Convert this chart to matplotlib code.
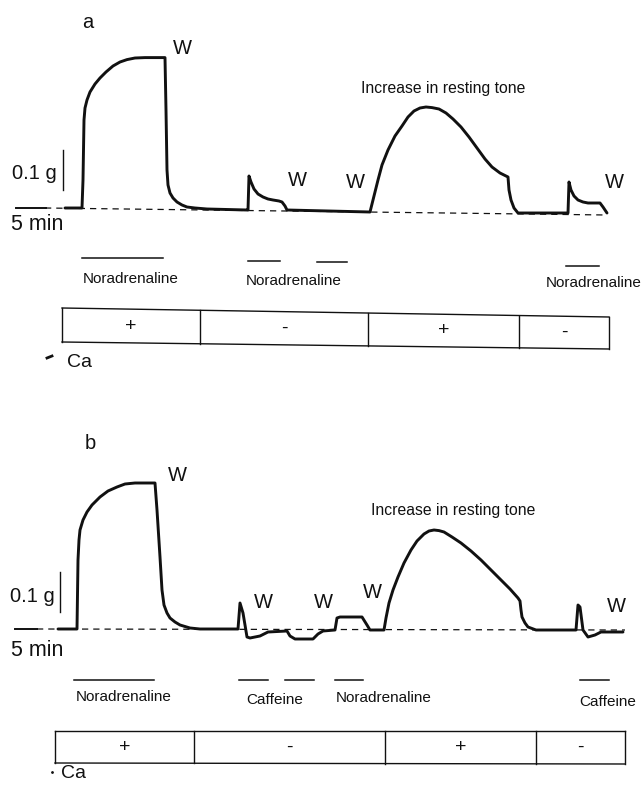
import numpy as np
import matplotlib
matplotlib.use("Agg")
import matplotlib.pyplot as plt
from matplotlib.transforms import blended_transform_factory

plt.rcParams['font.family'] = ['Liberation Sans', 'DejaVu Sans']

# ---------------- data (chart time in s, tension in mg above baseline) -------------
time_a = [650, 820, 830, 840, 850, 870, 900, 950, 1000, 1060, 1130, 1200, 1270, 1350, 1450, 1650,
          1660, 1670, 1680, 1700, 1730, 1770, 1820, 1870, 1950, 2070, 2470,
          2480, 2490, 2510, 2540, 2580, 2630, 2680, 2730, 2790, 2820, 2850, 2870, 3700,
          3720, 3750, 3780, 3820, 3880, 3950, 4020, 4080, 4140, 4200, 4260, 4320, 4390,
          4460, 4530, 4610, 4690, 4770, 4850, 4920, 5000, 5080, 5090, 5110, 5140, 5180, 5680,
          5690, 5710, 5740, 5780, 5830, 5880, 5960, 6000, 6030, 6070]
tension_a = [0, 0, 70, 220, 250, 270, 290, 310, 325, 340, 355, 365, 371, 375, 376, 376,
             245, 95, 57.5, 37.5, 25, 15, 7.5, 2.5, 0, -2.5, -5,
             -5, 80, 65, 47.5, 35, 27.5, 22.5, 20, 17.5, 15, 5, -5, -10,
             10, 40, 70, 107.5, 145, 180, 205, 227.5, 242.5, 250, 252.5, 251, 247.5,
             237.5, 222.5, 202.5, 177.5, 150, 122.5, 102.5, 87.5, 77.5, 45, 20, 0, -12.5, -12.5,
             65, 45, 30, 20, 15, 12.5, 12.5, 12.5, 2.5, -12.5]
baseline_a_t = [450, 6070]
baseline_a_v = [0, -17.5]

time_b = [580, 770, 780, 790, 800, 830, 870, 920, 1000, 1080, 1170, 1250, 1350, 1550,
          1570, 1600, 1620, 1640, 1670, 1700, 1750, 1800, 1900, 2000, 2330,
          2380, 2400, 2430, 2470, 2500, 2600, 2680, 2870, 2900, 2950, 3130,
          3180, 3230, 3350, 3370, 3400, 3620, 3670, 3700, 3840,
          3860, 3890, 3930, 3980, 4040, 4110, 4170, 4240, 4290, 4340, 4390, 4440, 4520,
          4610, 4710, 4810, 4910, 5010, 5100, 5180, 5200, 5210, 5220, 5250, 5280, 5360, 5760,
          5780, 5800, 5830, 5880, 5950, 6010, 6230]
tension_b = [0, 0, 172.5, 222.5, 247.5, 272.5, 292.5, 310, 330, 345, 355, 362.5, 365, 365,
             297.5, 180, 97.5, 60, 40, 27.5, 17.5, 10, 2.5, 0, 0,
             0, 65, 40, -20, -22.5, -17.5, -7.5, -5, -17.5, -25, -25,
             -12.5, -5, -2.5, 27.5, 30, 30, 10, -2.5, -2.5,
             27.5, 65, 97.5, 130, 165, 197.5, 220, 237.5, 245, 247.5, 246, 242.5, 230,
             215, 195, 172.5, 147.5, 122.5, 100, 77.5, 70, 47.5, 30, 15, 5, -2.5, -2.5,
             60, 55, -2.5, -20, -15, -7.5, -7.5]
baseline_b_t = [370, 6250]
baseline_b_v = [0, -2.5]

# drug applications (start, end in s)
drug_a = [(820, 1630), (2480, 2800), (3170, 3470), (5660, 5990)]
drug_b = [(740, 1540), (2390, 2680), (2850, 3140), (3350, 3630), (5800, 6090)]

# Ca periods
ca_edges_a = [620, 2000, 3680, 5190, 6090]
ca_signs_a = ['+', '-', '+', '-']
ca_edges_b = [550, 1940, 3850, 5360, 6250]
ca_signs_b = ['+', '-', '+', '-']

W = 642
H = 789
fig = plt.figure(figsize=(W / 100, H / 100), dpi=100)
fig.patch.set_facecolor('white')

lay = fig.add_axes([0, 0, 1, 1])
lay.set_xlim(0, W)
lay.set_ylim(H, 0)
lay.axis('off')

ax_a = fig.add_axes([0, 0, 1, 1])
ax_a.set_xlim(0, 6420)
ax_a.set_ylim((208 - H) * 2.5, 208 * 2.5)
ax_a.axis('off')
ax_a.patch.set_alpha(0)

ax_b = fig.add_axes([0, 0, 1, 1])
ax_b.set_xlim(0, 6420)
ax_b.set_ylim((629 - H) * 2.5, 629 * 2.5)
ax_b.axis('off')
ax_b.patch.set_alpha(0)

ink = '#111111'
trace_lw = 2.1

# traces
ax_a.plot(time_a, tension_a, color=ink, lw=trace_lw, solid_joinstyle='round', solid_capstyle='round')
ax_a.plot(baseline_a_t, baseline_a_v, color=ink, lw=0.9, dashes=(5, 4))
ax_b.plot(time_b, tension_b, color=ink, lw=trace_lw, solid_joinstyle='round', solid_capstyle='round')
ax_b.plot(baseline_b_t, baseline_b_v, color=ink, lw=0.9, dashes=(5, 4))

# scale bars
lay.plot([16, 46], [208, 208], color=ink, lw=1.4)
lay.plot([63, 63], [150, 190], color=ink, lw=1.0)
lay.plot([15, 37], [629, 629], color=ink, lw=1.4)
lay.plot([60, 60], [572, 612], color=ink, lw=1.0)

fs_big = 14.5
fs_lab = 11
lay.text(12, 173, '0.1 g', fontsize=fs_big, ha='left', va='center', color=ink)
lay.text(11, 224, '5 min', fontsize=15.5, ha='left', va='center', color=ink)
lay.text(10, 596, '0.1 g', fontsize=fs_big, ha='left', va='center', color=ink)
lay.text(11, 650, '5 min', fontsize=15.5, ha='left', va='center', color=ink)

lay.text(88, 22, 'a', fontsize=fs_big, ha='center', va='center', color=ink)
lay.text(90, 443, 'b', fontsize=fs_big, ha='center', va='center', color=ink)

for (x, y) in [(182, 48), (297, 180), (355, 182), (614, 182),
               (177, 475), (263, 602), (323, 603), (372, 593), (616, 607)]:
    lay.text(x, y, 'W', fontsize=fs_big, ha='center', va='center', color=ink)

lay.text(443, 88, 'Increase in resting tone', fontsize=11.3, ha='center', va='center', color=ink)
lay.text(453, 510, 'Increase in resting tone', fontsize=11.3, ha='center', va='center', color=ink)

# drug bars
tr_a = blended_transform_factory(ax_a.transData, lay.transData)
tr_b = blended_transform_factory(ax_b.transData, lay.transData)
bar_y_a = [258, 261, 262, 266]
for (s, e), y in zip(drug_a, bar_y_a):
    ax_a.plot([s, e], [y, y], color=ink, lw=1.1, transform=tr_a)
for (s, e) in drug_b:
    ax_b.plot([s, e], [680, 680], color=ink, lw=1.1, transform=tr_b)

lay.text(131, 279, 'Noradrenaline', fontsize=fs_lab, ha='center', va='center', color=ink)
lay.text(294, 281, 'Noradrenaline', fontsize=fs_lab, ha='center', va='center', color=ink)
lay.text(546, 283, 'Noradrenaline', fontsize=fs_lab, ha='left', va='center', color=ink)

lay.text(124, 697, 'Noradrenaline', fontsize=fs_lab, ha='center', va='center', color=ink)
lay.text(275, 700, 'Caffeine', fontsize=fs_lab, ha='center', va='center', color=ink)
lay.text(384, 698, 'Noradrenaline', fontsize=fs_lab, ha='center', va='center', color=ink)
lay.text(608, 702, 'Caffeine', fontsize=fs_lab, ha='center', va='center', color=ink)

# Ca boxes
def ca_box(ax, tr, edges, signs, top, bot):
    e0, e1 = edges[0], edges[-1]
    ax.plot([e0, e1], top, color=ink, lw=1.0, transform=tr)
    ax.plot([e0, e1], bot, color=ink, lw=1.0, transform=tr)
    for e in edges:
        yt = np.interp(e, [e0, e1], top)
        yb = np.interp(e, [e0, e1], bot)
        ax.plot([e, e], [yt, yb], color=ink, lw=1.0, transform=tr)
    for i, s in enumerate(signs):
        xm = 0.5 * (edges[i] + edges[i + 1])
        ym = 0.5 * (np.interp(xm, [e0, e1], top) + np.interp(xm, [e0, e1], bot))
        ax.text(xm, ym, s, fontsize=14, ha='center', va='center', color=ink, transform=tr)

ca_box(ax_a, tr_a, ca_edges_a, ca_signs_a, [308, 317], [342, 349])
ca_box(ax_b, tr_b, ca_edges_b, ca_signs_b, [731, 731], [763, 764])

lay.text(80, 362, 'Ca', fontsize=14, ha='center', va='center', color=ink)
lay.text(74, 774, 'Ca', fontsize=14, ha='center', va='center', color=ink)
lay.plot([47, 52], [358, 356], color=ink, lw=2.0)
lay.plot([52], [772], marker='.', ms=2, color=ink)

fig.savefig('out.png', dpi=100, facecolor='white')
